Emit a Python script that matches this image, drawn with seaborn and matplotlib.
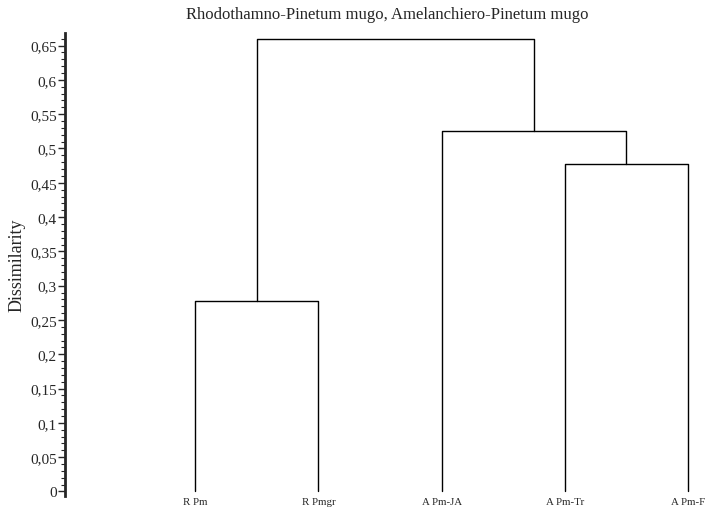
import numpy as np
import pandas as pd
import matplotlib
matplotlib.use("Agg")
import matplotlib.pyplot as plt
import seaborn as sns
from matplotlib.ticker import MultipleLocator, FuncFormatter

# leaves in plotting order
leaves = ['R Pm', 'R Pmgr', 'A Pm-JA', 'A Pm-Tr', 'A Pm-F']
# merges (linkage style: index >= 5 means a cluster made earlier)
merge_left = [0, 3, 2, 5]
merge_right = [1, 4, 6, 7]
merge_height = [0.277, 0.478, 0.525, 0.659]

sns.set_style("ticks")
plt.rcParams['font.family'] = ['Liberation Serif', 'DejaVu Serif']

# x / y of every node (leaves first, then clusters)
node_x = list(range(len(leaves)))
node_y = [0.0] * len(leaves)
rows = []
for k, (a, b, h) in enumerate(zip(merge_left, merge_right, merge_height)):
    xa, ya = node_x[a], node_y[a]
    xb, yb = node_x[b], node_y[b]
    for x, y in [(xa, ya), (xa, h), (xb, h), (xb, yb)]:
        rows.append({'link': k, 'x': x, 'y': y})
    node_x.append((xa + xb) / 2)
    node_y.append(h)
seg = pd.DataFrame(rows)

fig = plt.figure(figsize=(7.09, 5.10), dpi=100)
ax = fig.add_axes([0.092, 0.0255, 0.908, 0.908])

sns.lineplot(data=seg, x='x', y='y', units='link', estimator=None, sort=False,
             color='black', linewidth=1.0, ax=ax, legend=False)

ax.set_xlim(-1.055, 4.17)
ax.set_ylim(-0.0066, 0.6685)
ax.yaxis.set_major_locator(MultipleLocator(0.05))
ax.yaxis.set_minor_locator(MultipleLocator(0.01))
ax.yaxis.set_major_formatter(FuncFormatter(lambda v, p: ('%g' % round(v, 2)).replace('.', ',')))
ax.tick_params(axis='y', which='major', length=5, width=1, labelsize=11, pad=1)
ax.tick_params(axis='y', which='minor', length=3, width=0.8)

ax.set_xticks(range(len(leaves)))
ax.set_xticklabels(leaves, fontsize=7.8)
ax.tick_params(axis='x', length=0, pad=1)

for s in ['top', 'right', 'bottom']:
    ax.spines[s].set_visible(False)
ax.spines['left'].set_linewidth(2)

ax.set_xlabel('')
ax.set_ylabel('Dissimilarity', fontsize=13, labelpad=3)
ax.set_title('Rhodothamno-Pinetum mugo, Amelanchiero-Pinetum mugo', fontsize=12, pad=11)

fig.savefig('out.png', dpi=100)
